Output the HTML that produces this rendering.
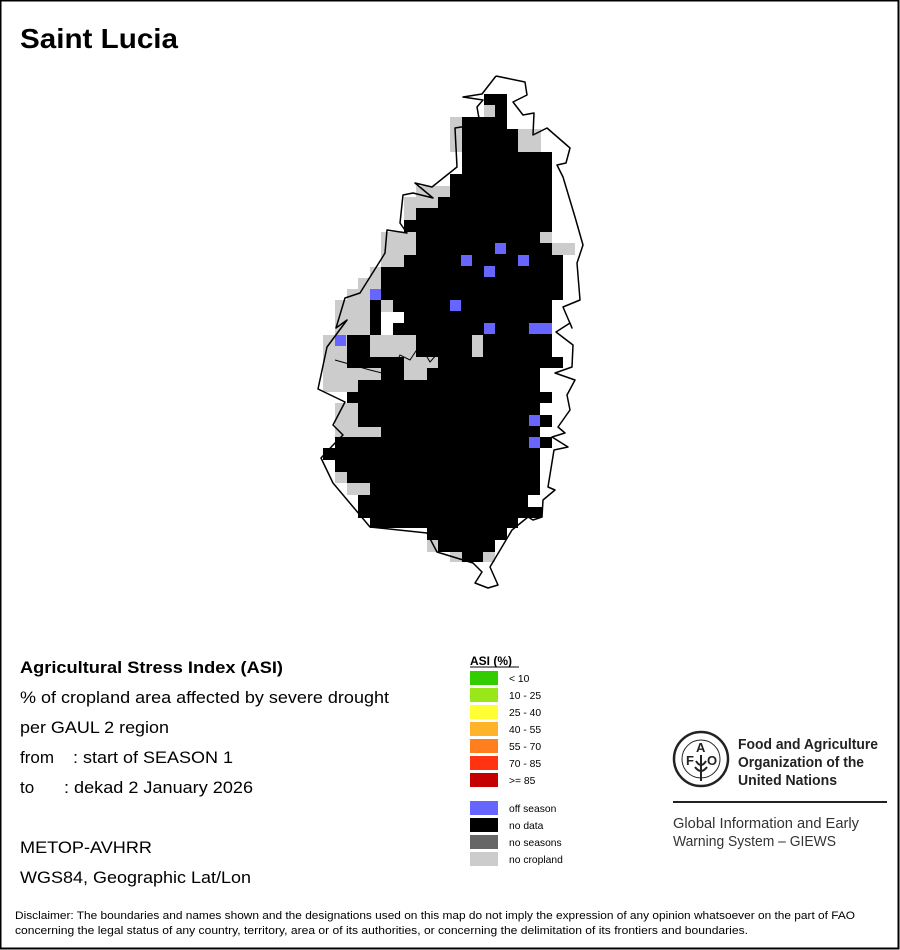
<!DOCTYPE html>
<html><head><meta charset="utf-8"><style>
html,body{margin:0;padding:0;background:#fff}
svg{display:block}
text{font-family:"Liberation Sans",Arial,sans-serif}
</style></head><body>
<svg width="900" height="950" viewBox="0 0 900 950" xmlns="http://www.w3.org/2000/svg">
<rect x="0.5" y="0.5" width="898" height="948" fill="#fff" stroke="#000" stroke-width="2"/>
<text x="20" y="48" font-size="28" font-weight="bold" textLength="158" lengthAdjust="spacingAndGlyphs">Saint Lucia</text>

<!-- gray (no cropland) -->
<g fill="#cccccc">
<rect x="484" y="94" width="23" height="23"/>
<rect x="450" y="117" width="12" height="35"/>
<rect x="518" y="129" width="23" height="23"/>
<rect x="416" y="186" width="34" height="22"/>
<rect x="404" y="197" width="34" height="23"/>
<rect x="540" y="232" width="12" height="11"/>
<rect x="552" y="243" width="23" height="12"/>
<rect x="381" y="232" width="35" height="35"/>
<rect x="370" y="267" width="11" height="11"/>
<rect x="358" y="278" width="23" height="22"/>
<rect x="347" y="289" width="46" height="23"/>
<rect x="335" y="300" width="46" height="35"/>
<rect x="323" y="335" width="58" height="57"/>
<rect x="381" y="335" width="35" height="22"/>
<rect x="404" y="357" width="34" height="23"/>
<rect x="472" y="335" width="11" height="22"/>
<rect x="335" y="403" width="23" height="24"/>
<rect x="335" y="427" width="46" height="10"/>
<rect x="323" y="448" width="12" height="12"/>
<rect x="335" y="472" width="12" height="11"/>
<rect x="347" y="483" width="23" height="12"/>
<rect x="427" y="540" width="11" height="12"/>
<rect x="450" y="552" width="12" height="10"/>
<rect x="483" y="552" width="12" height="10"/>
</g>

<!-- black (no data) -->
<g fill="#000">
<rect x="484" y="94" width="23" height="11"/>
<rect x="495" y="105" width="12" height="12"/>
<rect x="462" y="117" width="45" height="12"/>
<rect x="462" y="129" width="56" height="23"/>
<rect x="462" y="152" width="90" height="22"/>
<rect x="450" y="174" width="102" height="23"/>
<rect x="438" y="197" width="114" height="11"/>
<rect x="416" y="208" width="136" height="12"/>
<rect x="404" y="220" width="148" height="12"/>
<rect x="416" y="232" width="124" height="11"/>
<rect x="416" y="243" width="136" height="12"/>
<rect x="404" y="255" width="159" height="12"/>
<rect x="381" y="267" width="182" height="33"/>
<rect x="393" y="300" width="159" height="12"/>
<rect x="370" y="300" width="11" height="35"/>
<rect x="404" y="312" width="148" height="23"/>
<rect x="393" y="323" width="159" height="12"/>
<rect x="347" y="335" width="23" height="22"/>
<rect x="416" y="335" width="56" height="22"/>
<rect x="483" y="335" width="69" height="22"/>
<rect x="347" y="357" width="57" height="11"/>
<rect x="438" y="357" width="125" height="11"/>
<rect x="381" y="368" width="23" height="12"/>
<rect x="427" y="368" width="113" height="12"/>
<rect x="358" y="380" width="182" height="12"/>
<rect x="347" y="392" width="205" height="11"/>
<rect x="358" y="403" width="182" height="24"/>
<rect x="540" y="415" width="12" height="12"/>
<rect x="381" y="427" width="159" height="10"/>
<rect x="335" y="437" width="217" height="11"/>
<rect x="323" y="448" width="217" height="12"/>
<rect x="335" y="460" width="205" height="12"/>
<rect x="347" y="472" width="193" height="11"/>
<rect x="370" y="483" width="170" height="12"/>
<rect x="358" y="495" width="170" height="12"/>
<rect x="358" y="507" width="184" height="11"/>
<rect x="370" y="518" width="148" height="10"/>
<rect x="427" y="528" width="80" height="12"/>
<rect x="438" y="540" width="57" height="12"/>
<rect x="462" y="552" width="21" height="10"/>
</g>

<!-- off season -->
<g fill="#6666ff">
<rect x="495" y="243" width="11" height="11"/>
<rect x="461" y="255" width="11" height="11"/>
<rect x="518" y="255" width="11" height="11"/>
<rect x="484" y="266" width="11" height="11"/>
<rect x="450" y="300" width="11" height="11"/>
<rect x="370" y="289" width="11" height="11"/>
<rect x="484" y="323" width="11" height="11"/>
<rect x="529" y="323" width="23" height="11"/>
<rect x="335" y="335" width="11" height="11"/>
<rect x="529" y="415" width="11" height="11"/>
<rect x="529" y="437" width="11" height="11"/>
</g>

<!-- outline -->
<polyline fill="none" stroke="#000" stroke-width="1.5" stroke-linejoin="round" points="496,76 525,82 527,95 513,102 523,115 534,113 533,135 547,128 570,148 566,163 557,165 563,177 575,217 583,245 577,263 580,300 563,307 572,328 570,323 556,332 573,345 572,367 555,373 575,380 567,395 570,410 558,427 565,433 552,437 568,447 554,450 548,487 555,490 543,500 542,517 533,520 528,517 512,530 490,567 498,585 488,588 475,583 482,572 473,563 437,552 427,533 370,527 333,483 321,458 335,443 343,435 333,425 345,402 318,389 327,347 347,320 336,328 345,298 360,293 382,258 385,253 387,230 407,233 400,223 403,195 413,193 433,198 415,183 432,187 457,167 455,128 480,124 477,107 483,100 463,97 482,94 496,76"/>
<polyline fill="none" stroke="#000" stroke-width="1" points="335,360 370,370 390,375 400,355 410,360 420,345 430,362 445,345"/>

<!-- left text -->
<g font-size="17">
<text x="20" y="673" font-weight="bold" textLength="263" lengthAdjust="spacingAndGlyphs">Agricultural Stress Index (ASI)</text>
<text x="20" y="703" textLength="369" lengthAdjust="spacingAndGlyphs">% of cropland area affected by severe drought</text>
<text x="20" y="733" textLength="149" lengthAdjust="spacingAndGlyphs">per GAUL 2 region</text>
<text x="20" y="763">from</text><text x="73" y="763" textLength="160" lengthAdjust="spacingAndGlyphs">: start of SEASON 1</text>
<text x="20" y="793">to</text><text x="64" y="793" textLength="189" lengthAdjust="spacingAndGlyphs">: dekad 2 January 2026</text>
<text x="20" y="853" textLength="132" lengthAdjust="spacingAndGlyphs">METOP-AVHRR</text>
<text x="20" y="883" textLength="231" lengthAdjust="spacingAndGlyphs">WGS84, Geographic Lat/Lon</text>
</g>
<g font-size="11">
<text x="15" y="919" textLength="840" lengthAdjust="spacingAndGlyphs">Disclaimer: The boundaries and names shown and the designations used on this map do not imply the expression of any opinion whatsoever on the part of FAO</text>
<text x="15" y="934" textLength="733" lengthAdjust="spacingAndGlyphs">concerning the legal status of any country, territory, area or of its authorities, or concerning the delimitation of its frontiers and boundaries.</text>
</g>

<!-- legend -->
<text x="470" y="665" font-size="12" font-weight="bold">ASI (%)</text>
<line x1="470" y1="667" x2="519" y2="667" stroke="#000" stroke-width="1"/>
<g>
<rect x="470" y="671" width="28" height="14" fill="#33cc00"/>
<rect x="470" y="688" width="28" height="14" fill="#99e619"/>
<rect x="470" y="705" width="28" height="14" fill="#ffff33"/>
<rect x="470" y="722" width="28" height="14" fill="#ffb329"/>
<rect x="470" y="739" width="28" height="14" fill="#ff7f1f"/>
<rect x="470" y="756" width="28" height="14" fill="#ff3311"/>
<rect x="470" y="773" width="28" height="14" fill="#c40000"/>
<rect x="470" y="801" width="28" height="14" fill="#6666ff"/>
<rect x="470" y="818" width="28" height="14" fill="#000"/>
<rect x="470" y="835" width="28" height="14" fill="#666666"/>
<rect x="470" y="852" width="28" height="14" fill="#cccccc"/>
</g>
<g font-size="10.3">
<text x="509" y="682">&lt; 10</text>
<text x="509" y="699">10 - 25</text>
<text x="509" y="716">25 - 40</text>
<text x="509" y="733">40 - 55</text>
<text x="509" y="750">55 - 70</text>
<text x="509" y="767">70 - 85</text>
<text x="509" y="784">&gt;= 85</text>
<text x="509" y="812">off season</text>
<text x="509" y="829">no data</text>
<text x="509" y="846">no seasons</text>
<text x="509" y="863">no cropland</text>
</g>

<!-- FAO logo -->
<g transform="translate(701,759)" fill="none" stroke="#222">
<circle r="27" stroke-width="2.5"/>
<circle r="19" stroke-width="1"/>
<text x="-15" y="6" font-size="13" font-weight="bold" fill="#222" stroke="none">F</text>
<text x="-5" y="-7" font-size="13" font-weight="bold" fill="#222" stroke="none">A</text>
<text x="6" y="6" font-size="13" font-weight="bold" fill="#222" stroke="none">O</text>
<path d="M0,-4 L0,22 M-5,2 Q0,10 5,2 M-6,8 Q0,16 6,8" stroke-width="2"/>
</g>
<g font-size="14.5" font-weight="bold" fill="#222">
<text x="738" y="749" textLength="140" lengthAdjust="spacingAndGlyphs">Food and Agriculture</text>
<text x="738" y="767" textLength="126" lengthAdjust="spacingAndGlyphs">Organization of the</text>
<text x="738" y="785" textLength="99" lengthAdjust="spacingAndGlyphs">United Nations</text>
</g>
<line x1="673" y1="802" x2="887" y2="802" stroke="#222" stroke-width="2"/>
<g font-size="14.5" fill="#333">
<text x="673" y="828" textLength="186" lengthAdjust="spacingAndGlyphs">Global Information and Early</text>
<text x="673" y="846" textLength="163" lengthAdjust="spacingAndGlyphs">Warning System – GIEWS</text>
</g>
</svg>
</body></html>
